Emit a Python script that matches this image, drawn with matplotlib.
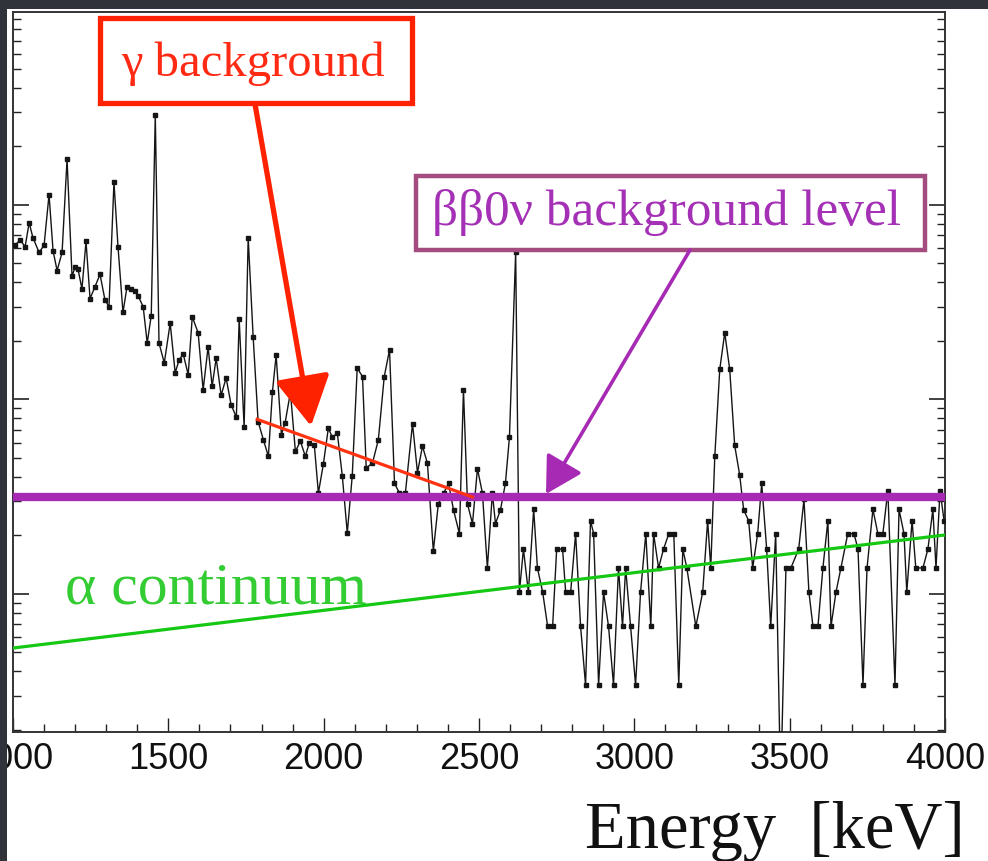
import matplotlib
matplotlib.use("Agg")
import matplotlib.pyplot as plt
from matplotlib.patches import Rectangle
from matplotlib.ticker import MultipleLocator, LogLocator, NullFormatter
import numpy as np

# ---------------- data ----------------
energy_keV = [
    1006, 1023, 1039, 1052, 1064, 1084, 1100, 1116, 1129, 1142, 1158, 1174, 1190, 1200,
    1209, 1222, 1235, 1248, 1264, 1280, 1296, 1309, 1325, 1338, 1354, 1367, 1380, 1393,
    1403, 1419, 1432, 1445, 1458, 1470, 1487, 1506, 1522, 1535, 1548, 1564, 1577, 1596,
    1612, 1628, 1641, 1654, 1670, 1686, 1702, 1719, 1728, 1744, 1757, 1773, 1789, 1806,
    1822, 1835, 1847, 1864, 1876, 1893, 1909, 1925, 1941, 1954, 1970, 1983, 1999, 2015,
    2028, 2044, 2060, 2076, 2092, 2108, 2125, 2137, 2157, 2176, 2195, 2212, 2228, 2244,
    2263, 2286, 2302, 2318, 2334, 2353, 2369, 2386, 2402, 2418, 2437, 2450, 2463, 2479,
    2495, 2511, 2527, 2543, 2553, 2569, 2585, 2598, 2618, 2630, 2643, 2659, 2676, 2688,
    2705, 2721, 2737, 2750, 2769, 2779, 2795, 2811, 2827, 2843, 2859, 2869, 2885, 2901,
    2917, 2933, 2949, 2962, 2972, 2988, 3004, 3020, 3037, 3053, 3062, 3078, 3094, 3111,
    3127, 3143, 3156, 3169, 3198, 3220, 3236, 3246, 3259, 3275, 3291, 3307, 3323, 3339,
    3352, 3368, 3381, 3397, 3410, 3426, 3439, 3455, 3471, 3488, 3504, 3529, 3546, 3562,
    3575, 3591, 3607, 3623, 3633, 3649, 3665, 3687, 3707, 3720, 3736, 3749, 3768, 3784,
    3800, 3816, 3839, 3852, 3868, 3877, 3894, 3906, 3929, 3945, 3961, 3971, 3984, 3997,
]
counts = [
    62, 66, 61, 81, 68, 57, 62, 113, 58, 46, 57, 172, 43, 48,
    47, 37, 65, 33, 38, 44, 32.5, 30, 131, 61, 28, 38, 37, 36,
    34, 30, 19.5, 27, 290, 19.5, 15.4, 24.7, 13.7, 16, 17.1, 13.4, 26.6, 22,
    11.2, 18.6, 11.7, 16.3, 10.5, 12.9, 9.4, 8.1, 26, 7.2, 68, 21, 7.7, 6.2,
    5.1, 10.9, 16.9, 6.6, 7.6, 10.9, 5.4, 6.1, 5.1, 6.0, 5.8, 3.3, 4.65, 7.1,
    6.4, 6.7, 4.05, 2.06, 4.05, 14.5, 13.1, 4.45, 4.7, 6.2, 13.1, 18.0, 3.7, 3.3,
    3.3, 7.5, 4.2, 5.75, 4.7, 1.66, 2.9, 3.3, 3.7, 2.7, 2.04, 11.2, 2.9, 2.3,
    4.4, 3.3, 1.36, 3.3, 2.3, 2.7, 3.7, 6.4, 57, 1.02, 1.7, 1.02, 2.72, 1.36,
    1.02, 0.68, 0.68, 1.7, 1.7, 1.02, 1.02, 2.04, 0.68, 0.34, 2.38, 2.04, 0.34, 1.02,
    0.68, 0.34, 1.36, 0.68, 1.36, 0.68, 0.34, 1.02, 2.04, 0.68, 2.04, 1.36, 1.7, 2.04,
    2.04, 0.34, 1.7, 1.36, 0.68, 1.02, 2.38, 1.36, 5.1, 14.3, 22, 14.3, 5.8, 4.1,
    2.7, 2.38, 1.36, 2.04, 3.7, 1.7, 0.68, 2.04, 0.1, 1.36, 1.36, 1.7, 3.06, 1.02,
    0.68, 0.68, 1.36, 2.38, 0.68, 1.02, 1.36, 2.04, 2.04, 1.7, 0.34, 1.36, 2.72, 2.04,
    2.04, 3.4, 0.34, 2.72, 2.04, 1.02, 2.38, 1.36, 1.36, 1.7, 2.72, 1.36, 3.4, 2.38,
]

# fitted / reference lines
gamma_fit_E = [1786, 2479]
gamma_fit_v = [7.9, 3.15]
bb0v_level = 3.15
alpha_E = [1000, 4000]
alpha_v = [0.527, 2.01]

x_ticks = [1000, 1500, 2000, 2500, 3000, 3500, 4000]
x_ticklabels = ["1000", "1500", "2000", "2500", "3000", "3500", "4000"]

# ---------------- figure ----------------
W, H = 988, 861
fig = plt.figure(figsize=(W / 100, H / 100), dpi=100)
fig.patch.set_facecolor("white")
ax = fig.add_axes([13 / W, 1 - 732 / H, 932 / W, 720 / H])
ax.set_yscale("log")
ax.set_xlim(1000, 4000)
ax.set_ylim(0.195, 982)

serif = ["Liberation Serif", "DejaVu Serif"]
sans = ["Liberation Sans", "DejaVu Sans"]

# spectrum
ax.plot(energy_keV, counts, color="#151515", lw=1.0, marker="s", ms=2.2,
        mfc="#151515", mec="#151515", zorder=3)

# lines
ax.axhline(bb0v_level, color="#a62ab3", lw=6, solid_capstyle="round", zorder=4)
ax.plot(gamma_fit_E, gamma_fit_v, color="#ff3311", lw=2.3, zorder=5)
ax.plot(alpha_E, alpha_v, color="#14c814", lw=2.3, zorder=5)

# ticks
ax.set_xticks(x_ticks)
ax.set_xticklabels(x_ticklabels)
ax.xaxis.set_minor_locator(MultipleLocator(100))
ax.yaxis.set_major_locator(LogLocator(base=10, numticks=20))
ax.yaxis.set_minor_locator(LogLocator(base=10, subs=np.arange(2, 10), numticks=50))
ax.yaxis.set_major_formatter(NullFormatter())
ax.yaxis.set_minor_formatter(NullFormatter())
ax.tick_params(axis="x", which="both", direction="in", top=False, bottom=True,
               colors="#222222", labelcolor="#111111", pad=7)
ax.tick_params(axis="x", which="major", length=10, width=1.0, labelsize=26)
ax.tick_params(axis="x", which="minor", length=6, width=1.0)
ax.tick_params(axis="y", which="both", direction="in", left=True, right=True, colors="#222222")
ax.tick_params(axis="y", which="major", length=11.5, width=1.2)
ax.tick_params(axis="y", which="minor", length=6, width=1.0)
for lab in ax.get_xticklabels():
    lab.set_family(sans)
for sp in ax.spines.values():
    sp.set_color("#333333")
    sp.set_linewidth(1.4)

# ---------------- annotations ----------------
def px2ax(x, y):
    return ((x - 13) / 932, (732 - y) / 720)

# red box
x0, y0 = px2ax(100, 103)
x1, y1 = px2ax(412, 18)
ax.add_patch(Rectangle((x0, y0), x1 - x0, y1 - y0, transform=ax.transAxes,
                       fill=True, fc="white", ec="#ff2200", lw=3.8, clip_on=False, zorder=6))
ax.text(*px2ax(253, 64), "γ background", transform=ax.transAxes, ha="center",
        va="center", color="#ff2a14", fontsize=35, family=serif, zorder=7)
ax.annotate("", xy=px2ax(311, 426), xytext=px2ax(255, 104),
            xycoords="axes fraction", textcoords="axes fraction",
            arrowprops=dict(arrowstyle="-|>,head_length=0.9,head_width=0.5",
                            mutation_scale=34, lw=3.8, color="#ff2200",
                            shrinkA=0, shrinkB=0), zorder=7)

# purple box
x0, y0 = px2ax(416, 250)
x1, y1 = px2ax(925, 176)
ax.add_patch(Rectangle((x0, y0), x1 - x0, y1 - y0, transform=ax.transAxes,
                       fill=True, fc="white", ec="#a44c80", lw=3.2, clip_on=False, zorder=6))
ax.text(*px2ax(667, 213), "ββ0ν background level", transform=ax.transAxes, ha="center",
        va="center", color="#a430b5", fontsize=37, family=serif, zorder=7)
ax.annotate("", xy=px2ax(546, 494), xytext=px2ax(690, 250),
            xycoords="axes fraction", textcoords="axes fraction",
            arrowprops=dict(arrowstyle="-|>,head_length=0.8,head_width=0.45",
                            mutation_scale=28, lw=2.6, color="#a62ab3",
                            shrinkA=0, shrinkB=0), zorder=7)

# alpha text
ax.text(*px2ax(65, 604), "α continuum", transform=ax.transAxes, ha="left",
        va="baseline", color="#33cc33", fontsize=43, family=serif, zorder=7)

# x label
fig.text(965 / W, 1 - 848 / H, "Energy  [keV]", ha="right", va="baseline",
         fontsize=48, family=serif, color="#111111")

# dark framing bands
dark = "#30333a"
fig.patches.append(Rectangle((0, 1 - 9 / H), 1, 9 / H, transform=fig.transFigure,
                             fc=dark, ec="none", zorder=20))
fig.patches.append(Rectangle((0, 0), 7 / W, 1, transform=fig.transFigure,
                             fc=dark, ec="none", zorder=20))

fig.savefig("out.png", dpi=100, facecolor="white")
